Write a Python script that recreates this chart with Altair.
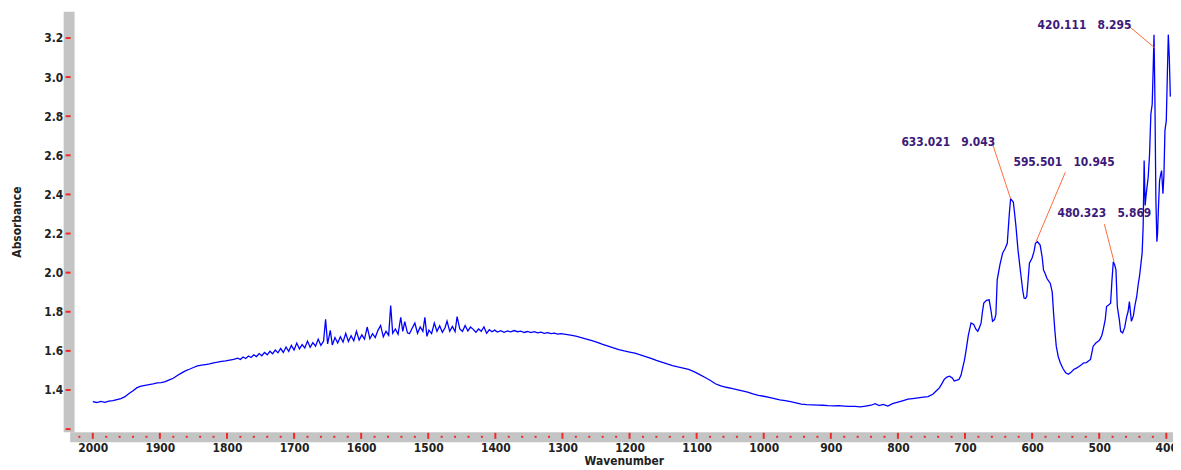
import altair as alt
import pandas as pd

# ---------------- data ----------------
wavenumber = [
    2000, 1994, 1988, 1982, 1976, 1970, 1964, 1958, 1952, 1946, 1940, 1934, 1928, 1922, 1916, 1910,
    1904, 1898, 1892, 1886, 1880, 1874, 1868, 1862, 1856, 1850, 1844, 1838, 1832, 1826, 1820, 1814,
    1808, 1802, 1796, 1790,
    1784, 1780, 1776, 1772, 1768, 1764, 1760, 1756, 1752, 1748, 1744, 1740, 1736, 1732, 1728, 1724,
    1720, 1716, 1712, 1708, 1704, 1700, 1696, 1692, 1688, 1684, 1680, 1676, 1672, 1668, 1664, 1660,
    1656, 1653, 1650, 1646, 1643, 1639, 1635, 1631, 1627, 1623, 1619, 1615, 1611, 1607, 1603, 1599,
    1595, 1591, 1587, 1583, 1579, 1575, 1571, 1567, 1563, 1559, 1556, 1553, 1549, 1545, 1541, 1538,
    1535, 1531, 1528, 1524, 1520, 1516, 1512, 1508, 1505, 1502, 1499, 1495, 1491, 1487, 1483, 1479,
    1475, 1472, 1468, 1464, 1460, 1457, 1453, 1449, 1445, 1441, 1437, 1433, 1429, 1425, 1421, 1417,
    1413, 1409, 1405, 1401, 1397,
    1392, 1387, 1382, 1377, 1372, 1367, 1362, 1357, 1352, 1347, 1342, 1337, 1332, 1327, 1322, 1317,
    1312, 1307, 1302,
    1295, 1288, 1280, 1272, 1264, 1256, 1248, 1240, 1232, 1224, 1216, 1208, 1200, 1192, 1184, 1176,
    1168, 1160, 1152, 1144, 1136, 1128, 1120, 1112, 1104, 1096, 1088, 1080, 1072, 1064, 1056, 1048,
    1040, 1032, 1024, 1016, 1008, 1000, 992, 984, 976, 968, 960, 952, 944, 936, 928, 920,
    912, 904, 896, 888, 880, 872, 864, 856, 848, 840, 834, 828, 822, 815, 808, 800,
    792, 785, 778, 770, 762, 755, 748, 743, 738, 734, 731, 727, 723, 719, 716, 712,
    709, 706, 704, 701, 699, 695, 691, 687, 684, 681, 679, 676, 674, 672, 668, 664,
    661, 659, 656, 654, 652, 648, 644, 640, 637, 634, 632, 630, 628, 626, 624, 621,
    617, 614, 612, 610, 608, 606, 604, 600, 597, 595, 592, 588, 585, 583, 580, 578,
    575, 573, 570, 568, 566, 564, 561, 558, 554, 550, 546, 542, 538, 534, 530, 526,
    523, 519, 516, 513, 511, 509, 505, 501, 499, 496, 494, 491, 489, 486, 483, 481,
    479, 477, 475, 473, 470, 468, 465, 462, 459, 457, 455, 452, 449, 447, 444, 442,
    440, 438, 436, 434.5, 433, 431.5, 430, 427, 425, 423, 421, 419.5, 418.3, 417, 415.5, 414,
    413, 411.5, 410, 408.5, 407, 405, 403.5, 402, 400, 398.5, 397, 395.5, 394,
]
absorbance = [
    1.340, 1.336, 1.342, 1.337, 1.343, 1.346, 1.351, 1.356, 1.366, 1.382, 1.396, 1.412, 1.420, 1.424, 1.428, 1.431,
    1.436, 1.438, 1.443, 1.452, 1.460, 1.474, 1.486, 1.498, 1.506, 1.515, 1.523, 1.527, 1.530, 1.533, 1.539, 1.542,
    1.546, 1.549, 1.553, 1.556,
    1.563, 1.556, 1.569, 1.561, 1.574, 1.566, 1.580, 1.571, 1.586, 1.575, 1.592, 1.580, 1.598, 1.585, 1.604, 1.590,
    1.612, 1.592, 1.620, 1.598, 1.628, 1.604, 1.640, 1.610, 1.632, 1.615, 1.650, 1.618, 1.642, 1.624, 1.660, 1.628,
    1.650, 1.762, 1.636, 1.705, 1.630, 1.668, 1.640, 1.672, 1.645, 1.690, 1.648, 1.678, 1.652, 1.700, 1.655, 1.682,
    1.660, 1.722, 1.662, 1.688, 1.668, 1.705, 1.730, 1.672, 1.700, 1.680, 1.832, 1.690, 1.712, 1.685, 1.772, 1.700,
    1.750, 1.692, 1.688, 1.716, 1.742, 1.690, 1.722, 1.700, 1.772, 1.674, 1.706, 1.688, 1.742, 1.700, 1.728, 1.695,
    1.718, 1.752, 1.700, 1.725, 1.698, 1.775, 1.712, 1.700, 1.730, 1.702, 1.722, 1.710, 1.695, 1.712, 1.700, 1.722,
    1.690, 1.708, 1.698, 1.706, 1.696,
    1.703, 1.695, 1.702, 1.697, 1.704, 1.698, 1.701, 1.694, 1.699, 1.693, 1.698, 1.692, 1.696, 1.690, 1.693, 1.688,
    1.691, 1.686, 1.688,
    1.684, 1.680, 1.675, 1.668, 1.660, 1.652, 1.643, 1.633, 1.624, 1.615, 1.607, 1.600, 1.594, 1.588, 1.580, 1.571,
    1.562, 1.551, 1.542, 1.533, 1.525, 1.518, 1.512, 1.505, 1.494, 1.480, 1.465, 1.450, 1.432, 1.421, 1.414, 1.408,
    1.402, 1.396, 1.389, 1.380, 1.372, 1.368, 1.362, 1.356, 1.350, 1.346, 1.340, 1.334, 1.328, 1.325, 1.324, 1.323,
    1.322, 1.320, 1.319, 1.320, 1.318, 1.316, 1.316, 1.314, 1.318, 1.322, 1.330, 1.320, 1.326, 1.318, 1.330, 1.338,
    1.346, 1.353, 1.356, 1.360, 1.363, 1.366, 1.378, 1.395, 1.412, 1.435, 1.454, 1.466, 1.471, 1.462, 1.446, 1.450,
    1.454, 1.475, 1.505, 1.550, 1.590, 1.680, 1.743, 1.735, 1.712, 1.700, 1.715, 1.743, 1.800, 1.844, 1.858, 1.861,
    1.800, 1.751, 1.760, 1.785, 1.963, 2.040, 2.099, 2.125, 2.150, 2.300, 2.378, 2.370, 2.361, 2.300, 2.234, 2.115,
    1.997, 1.910, 1.870, 1.868, 1.878, 1.960, 2.048, 2.075, 2.110, 2.150, 2.158, 2.141, 2.080, 2.014, 1.990, 1.971,
    1.955, 1.946, 1.900, 1.793, 1.700, 1.624, 1.570, 1.539, 1.510, 1.488, 1.480, 1.490, 1.505, 1.512, 1.520, 1.530,
    1.539, 1.540, 1.548, 1.556, 1.590, 1.624, 1.640, 1.650, 1.658, 1.680, 1.709, 1.760, 1.827, 1.835, 1.844, 1.960,
    2.056, 2.040, 2.014, 1.827, 1.760, 1.700, 1.692, 1.720, 1.776, 1.800, 1.852, 1.751, 1.780, 1.827, 1.880, 1.937,
    1.980, 2.039, 2.100, 2.234, 2.573, 2.344, 2.400, 2.488, 2.600, 2.810, 2.861, 3.047, 3.217, 2.900, 2.370, 2.158,
    2.200, 2.350, 2.471, 2.500, 2.522, 2.404, 2.500, 2.726, 2.777, 3.000, 3.217, 3.100, 2.900,
]

ann_label = ["633.021\u00a0\u00a0\u00a09.043", "595.501\u00a0\u00a0\u00a010.945",
             "480.323\u00a0\u00a0\u00a05.869", "420.111\u00a0\u00a0\u00a08.295"]
ann_text_w = [724.9, 552.3, 492.3, 521.9]
ann_text_a = [2.670, 2.568, 2.3035, 3.265]
ann_start_w = [659.7, 550.5, 492.3, 459.3]
ann_start_a = [2.666, 2.5135, 2.2475, 3.271]
ann_end_w = [632.0, 594.1, 477.9, 417.2]
ann_end_a = [2.378, 2.158, 2.056, 3.149]

y_label_values = [1.4, 1.6, 1.8, 2.0, 2.2, 2.4, 2.6, 2.8, 3.0, 3.2]
y_tick_values = [1.2] + y_label_values
x_major = [2000, 1900, 1800, 1700, 1600, 1500, 1400, 1300, 1200, 1100, 1000, 900, 800, 700, 600, 500, 400]
x_minor = [2020, 1980, 1960, 1940, 1920, 1880, 1860, 1840, 1820, 1780, 1760, 1740, 1720,
           1680, 1660, 1640, 1620, 1580, 1560, 1540, 1520, 1480, 1460, 1440, 1420,
           1380, 1360, 1340, 1320, 1280, 1260, 1240, 1220, 1180, 1160, 1140, 1120,
           1080, 1060, 1040, 1020, 980, 960, 940, 920, 880, 860, 840, 820,
           780, 760, 740, 720, 680, 660, 640, 620, 580, 560, 540, 520, 480, 460, 440, 420]

# ---------------- chart ----------------
W, H = 1105, 423
FONT = "Liberation Sans Narrow, DejaVu Sans Condensed, Arial Narrow, sans-serif"
RED = "#f02828"

spec = pd.DataFrame({"w": wavenumber, "a": absorbance})
ann = pd.DataFrame({"label": ann_label, "tw": ann_text_w, "ta": ann_text_a,
                    "w": ann_start_w, "a": ann_start_a, "w2": ann_end_w, "a2": ann_end_a})
xmaj = pd.DataFrame({"w": x_major})
xmin = pd.DataFrame({"w": x_minor})
yt = pd.DataFrame({"a": y_tick_values})

xs = alt.Scale(domain=[2027.1, 390], nice=False, zero=False)
ys = alt.Scale(domain=[1.186, 3.336], nice=False, zero=False)

x_axis = alt.Axis(values=x_major, format="d", title="Wavenumber", grid=False, ticks=False,
                  domainColor="#c4c4c4", domainWidth=10, offset=5, domainCap="square",
                  labelFont=FONT, labelFontSize=12, labelFontWeight="bold", labelColor="#222222",
                  labelPadding=6, labelFlush=False, labelOverlap=False,
                  titleFont=FONT, titleFontSize=12, titleFontWeight="bold", titleColor="#222222",
                  titlePadding=2)
y_axis = alt.Axis(values=y_label_values, format=".1f", title="Absorbance", grid=False, ticks=False,
                  domainColor="#c4c4c4", domainWidth=11, offset=6,
                  labelFont=FONT, labelFontSize=12, labelFontWeight="bold", labelColor="#222222",
                  labelPadding=6,
                  titleFont=FONT, titleFontSize=12, titleFontWeight="bold", titleColor="#222222",
                  titlePadding=20)

X = alt.X("w:Q", scale=xs, axis=x_axis)
Y = alt.Y("a:Q", scale=ys, axis=y_axis)

line = alt.Chart(spec).mark_line(color="#0000ff", strokeWidth=1.3).encode(x=X, y=Y)

xmaj_ticks = alt.Chart(xmaj).mark_rule(color=RED, strokeWidth=2).encode(
    x=X, y=alt.value(H + 1), y2=alt.value(H + 7))
xmin_ticks = alt.Chart(xmin).mark_rule(color=RED, strokeWidth=2).encode(
    x=X, y=alt.value(H + 4), y2=alt.value(H + 6))
y_ticks = alt.Chart(yt).mark_rule(color=RED, strokeWidth=2).encode(
    y=Y, x=alt.value(-9), x2=alt.value(-4))

leaders = alt.Chart(ann).mark_rule(color="#ff6a3a", strokeWidth=1).encode(
    x=X, y=Y, x2="w2:Q", y2="a2:Q")
labels = alt.Chart(ann).mark_text(font=FONT, fontSize=12, color="#3c1a7a", fontWeight="bold",
                                  align="center", baseline="middle").encode(
    x=alt.X("tw:Q", scale=xs, axis=x_axis), y=alt.Y("ta:Q", scale=ys, axis=y_axis), text="label:N")

chart = alt.layer(line, xmaj_ticks, xmin_ticks, y_ticks, leaders, labels).properties(
    width=W, height=H,
    padding={"left": 67, "top": 2, "right": 0, "bottom": 37},
    autosize=alt.AutoSizeParams(type="none"),
    background="white",
).configure_view(stroke=None)

chart.save("out.html", embed_options={"renderer": "svg", "actions": False})
